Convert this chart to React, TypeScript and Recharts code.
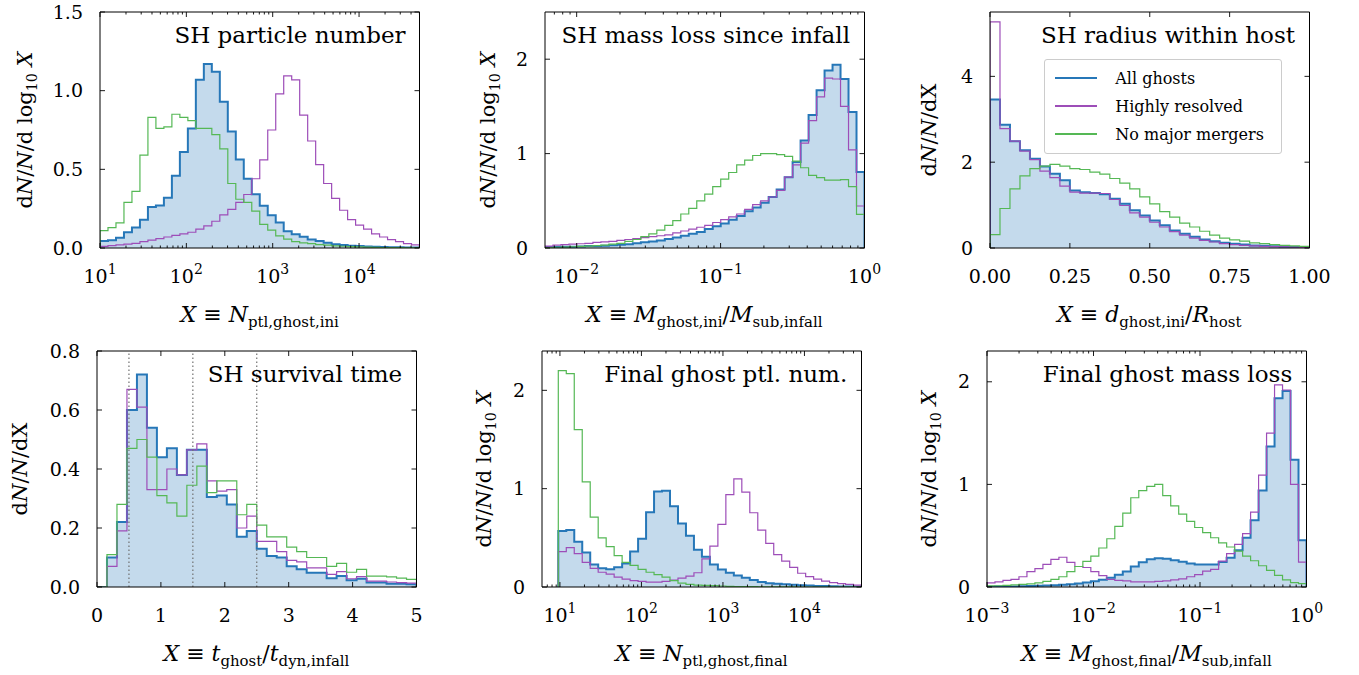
import React from "react";
import { ComposedChart, Area, Line, XAxis, YAxis, ReferenceLine, Legend } from "recharts";

const FONT = "'DejaVu Serif', serif";
const BLUE = "#2677b8";
const PURPLE = "#9d4db8";
const GREEN = "#55b855";

// SH particle number: 40 log bins, 10^1 .. 10^4.7
const nIniAll = [0.045, 0.05, 0.065, 0.1, 0.13, 0.18, 0.26, 0.27, 0.32, 0.46, 0.61, 0.76, 1.07, 1.17, 1.12, 0.93, 0.74, 0.563, 0.44, 0.342, 0.268, 0.208, 0.162, 0.106, 0.088, 0.071, 0.054, 0.044, 0.033, 0.024, 0.019, 0.015, 0.012, 0.01, 0.008, 0.006, 0.005, 0.004, 0.003, 0.003];
const nIniHiRes = [0.01, 0.015, 0.02, 0.025, 0.03, 0.04, 0.05, 0.06, 0.07, 0.08, 0.09, 0.1, 0.12, 0.14, 0.17, 0.21, 0.245, 0.29, 0.34, 0.44, 0.56, 0.75, 0.98, 1.094, 1.068, 0.845, 0.68, 0.53, 0.41, 0.315, 0.24, 0.18, 0.145, 0.12, 0.09, 0.07, 0.053, 0.04, 0.028, 0.02];
const nIniNoMerge = [0.11, 0.13, 0.16, 0.29, 0.36, 0.59, 0.83, 0.76, 0.77, 0.85, 0.83, 0.81, 0.76, 0.76, 0.72, 0.63, 0.41, 0.31, 0.29, 0.234, 0.15, 0.113, 0.077, 0.056, 0.04, 0.033, 0.028, 0.022, 0.018, 0.014, 0.011, 0.009, 0.007, 0.005, 0.004, 0.003, 0.002, 0.002, 0.001, 0.001];

// SH mass loss since infall: 40 log bins, 10^-2.22 .. 1
const mIniAll = [0.01, 0.01, 0.012, 0.014, 0.016, 0.02, 0.022, 0.025, 0.03, 0.035, 0.04, 0.05, 0.06, 0.07, 0.08, 0.095, 0.11, 0.13, 0.15, 0.17, 0.2, 0.23, 0.26, 0.3, 0.34, 0.39, 0.43, 0.48, 0.54, 0.62, 0.75, 0.91, 1.14, 1.41, 1.67, 1.88, 1.94, 1.79, 1.44, 0.806];
const mIniHiRes = [0.02, 0.03, 0.035, 0.04, 0.045, 0.05, 0.06, 0.065, 0.07, 0.08, 0.09, 0.1, 0.11, 0.12, 0.13, 0.14, 0.16, 0.18, 0.2, 0.22, 0.24, 0.27, 0.3, 0.33, 0.36, 0.41, 0.46, 0.5, 0.54, 0.61, 0.75, 0.88, 1.11, 1.35, 1.6, 1.8, 1.79, 1.5, 1.04, 0.445];
const mIniNoMerge = [0.005, 0.008, 0.01, 0.013, 0.017, 0.02, 0.025, 0.03, 0.04, 0.05, 0.07, 0.09, 0.12, 0.15, 0.19, 0.24, 0.29, 0.36, 0.42, 0.5, 0.57, 0.65, 0.73, 0.8, 0.88, 0.93, 0.98, 1.0, 1.0, 0.99, 0.97, 0.92, 0.85, 0.77, 0.745, 0.72, 0.72, 0.725, 0.65, 0.357];

// SH radius within host: 32 bins, 0 .. 1
const rIniAll = [3.46, 2.87, 2.49, 2.28, 2.08, 1.9, 1.73, 1.58, 1.34, 1.3, 1.28, 1.25, 1.15, 1.03, 0.88, 0.76, 0.64, 0.53, 0.41, 0.33, 0.26, 0.2, 0.16, 0.12, 0.1, 0.08, 0.06, 0.05, 0.04, 0.03, 0.025, 0.02];
const rIniHiRes = [5.27, 2.78, 2.49, 2.26, 2.06, 1.79, 1.64, 1.44, 1.3, 1.28, 1.28, 1.27, 1.13, 0.99, 0.82, 0.72, 0.6, 0.49, 0.38, 0.3, 0.23, 0.18, 0.14, 0.1, 0.08, 0.06, 0.05, 0.04, 0.03, 0.025, 0.02, 0.015];
const rIniNoMerge = [0.31, 0.92, 1.38, 1.68, 1.85, 1.91, 1.95, 1.91, 1.85, 1.83, 1.77, 1.72, 1.62, 1.51, 1.38, 1.19, 1.03, 0.85, 0.72, 0.58, 0.49, 0.39, 0.3, 0.23, 0.19, 0.16, 0.12, 0.1, 0.08, 0.06, 0.05, 0.04];

// SH survival time: 32 bins, 0 .. 5
const tAll = [0, 0.1, 0.22, 0.6, 0.72, 0.54, 0.44, 0.47, 0.38, 0.465, 0.465, 0.305, 0.31, 0.28, 0.17, 0.19, 0.13, 0.105, 0.1, 0.07, 0.06, 0.048, 0.048, 0.03, 0.037, 0.023, 0.028, 0.015, 0.015, 0.011, 0.011, 0.009];
const tHiRes = [0, 0.07, 0.19, 0.67, 0.61, 0.33, 0.33, 0.4, 0.38, 0.465, 0.485, 0.36, 0.325, 0.33, 0.2, 0.24, 0.155, 0.155, 0.12, 0.09, 0.085, 0.065, 0.065, 0.043, 0.052, 0.028, 0.035, 0.02, 0.02, 0.017, 0.015, 0.013];
const tNoMerge = [0, 0.11, 0.28, 0.47, 0.5, 0.44, 0.31, 0.285, 0.24, 0.345, 0.41, 0.32, 0.36, 0.36, 0.245, 0.28, 0.21, 0.17, 0.17, 0.135, 0.12, 0.1, 0.1, 0.07, 0.08, 0.05, 0.06, 0.037, 0.037, 0.034, 0.03, 0.026];
const survivalMarks = [0.5, 1.5, 2.5];

// Final ghost ptl. num.: 38 log bins, 10^0.98 .. 10^4.7
const nFinAll = [0.57, 0.58, 0.46, 0.35, 0.23, 0.19, 0.18, 0.2, 0.24, 0.36, 0.49, 0.76, 0.97, 0.98, 0.82, 0.646, 0.52, 0.38, 0.307, 0.23, 0.178, 0.145, 0.117, 0.094, 0.07, 0.05, 0.037, 0.034, 0.027, 0.022, 0.018, 0.014, 0.011, 0.009, 0.007, 0.005, 0.004, 0.003];
const nFinHiRes = [0.36, 0.4, 0.34, 0.25, 0.19, 0.15, 0.13, 0.1, 0.08, 0.065, 0.058, 0.05, 0.05, 0.058, 0.07, 0.09, 0.11, 0.145, 0.287, 0.415, 0.636, 0.94, 1.1, 0.965, 0.755, 0.578, 0.443, 0.33, 0.263, 0.2, 0.14, 0.105, 0.08, 0.06, 0.045, 0.035, 0.027, 0.02];
const nFinNoMerge = [2.2, 2.17, 1.6, 1.07, 0.71, 0.5, 0.41, 0.32, 0.25, 0.22, 0.18, 0.15, 0.125, 0.1, 0.064, 0.04, 0.027, 0.02, 0.017, 0.013, 0.01, 0.007, 0.005, 0.004, 0.003, 0.002, 0.002, 0.001, 0.001, 0.001, 0, 0, 0, 0, 0, 0, 0, 0];

// Final ghost mass loss: 40 log bins, 10^-3 .. 1
const mFinAll = [0.003, 0.004, 0.005, 0.006, 0.007, 0.009, 0.011, 0.014, 0.017, 0.022, 0.028, 0.035, 0.045, 0.055, 0.07, 0.09, 0.12, 0.15, 0.2, 0.24, 0.27, 0.28, 0.275, 0.26, 0.245, 0.23, 0.22, 0.22, 0.22, 0.243, 0.286, 0.357, 0.48, 0.65, 0.94, 1.37, 1.84, 1.91, 1.24, 0.455];
const mFinHiRes = [0.04, 0.05, 0.065, 0.075, 0.1, 0.15, 0.18, 0.22, 0.27, 0.29, 0.24, 0.2, 0.19, 0.15, 0.11, 0.075, 0.065, 0.06, 0.05, 0.05, 0.05, 0.055, 0.06, 0.07, 0.08, 0.1, 0.12, 0.155, 0.172, 0.253, 0.325, 0.415, 0.52, 0.73, 1.09, 1.5, 1.97, 1.92, 1.0, 0.243];
const mFinNoMerge = [0.01, 0.012, 0.015, 0.02, 0.025, 0.03, 0.04, 0.055, 0.075, 0.1, 0.15, 0.2, 0.25, 0.3, 0.38, 0.47, 0.59, 0.72, 0.87, 0.94, 0.98, 1.0, 0.89, 0.79, 0.71, 0.64, 0.58, 0.53, 0.48, 0.43, 0.39, 0.35, 0.3, 0.256, 0.207, 0.163, 0.114, 0.07, 0.043, 0.033];

// tick labels
const decadesN = [10, 100, 1000, 10000];
const decadesM = [0.01, 0.1, 1];
const decadesMFin = [0.001, 0.01, 0.1, 1];
const radiusTicks = [0, 0.25, 0.5, 0.75, 1];
const timeTicks = [0, 1, 2, 3, 4, 5];
const yTicksHalf = [0, 0.5, 1, 1.5];
const yTicksUnit = [0, 1, 2];
const yTicksRadius = [0, 2, 4];
const yTicksTime = [0, 0.2, 0.4, 0.6, 0.8];

const legendNames = ["All ghosts", "Highly resolved", "No major mergers"];
const legendColors = [BLUE, PURPLE, GREEN];

const PW = 319.5;
const PH = 236;
const YW = 70;
const XH = 45;
const MT = 12;
const MR = 28;

function binEdges(lo: number, hi: number, n: number, log: boolean) {
  return Array.from({ length: n + 1 }, (_, i) => {
    const v = lo + ((hi - lo) * i) / n;
    return log ? Math.pow(10, v) : v;
  });
}

// step outline rows: closed at both ends like a matplotlib step histogram
function histRows(edges: number[], all: number[], hires: number[], nomerge: number[]) {
  const n = all.length;
  const rows = [{ x: edges[0], all: 0, hires: 0, nomerge: 0 }];
  for (let i = 0; i < n; i++) rows.push({ x: edges[i], all: all[i], hires: hires[i], nomerge: nomerge[i] });
  rows.push({ x: edges[n], all: all[n - 1], hires: hires[n - 1], nomerge: nomerge[n - 1] });
  rows.push({ x: edges[n], all: 0, hires: 0, nomerge: 0 });
  return rows;
}

function withMinors(decades: number[], lo: number, hi: number) {
  const out: number[] = [];
  const first = decades[0] / 10;
  [first, ...decades].forEach((d) => {
    for (let m = 1; m < 10; m++) {
      const v = d * m;
      if (v >= lo * 0.9999 && v <= hi * 1.0001) out.push(v);
    }
  });
  return out;
}

const isDecade = (v: number) => Math.abs(Math.log10(v) - Math.round(Math.log10(v))) < 1e-6;

const Sub = ({ children }: { children: React.ReactNode }) => (
  <sub style={{ fontSize: "0.68em", verticalAlign: "-0.32em", lineHeight: 0 }}>{children}</sub>
);

function XTick(props: any) {
  const { x, y, payload, log, fmt, top } = props;
  const v = payload.value;
  const major = !log || isDecade(v);
  const len = major ? 5 : 2.5;
  const y2 = top ? y + len : y - len;
  let label: React.ReactNode = null;
  if (!top && major) {
    if (log) {
      const e = Math.round(Math.log10(v));
      label = (
        <text x={x} y={y + 35} textAnchor="middle" fontFamily={FONT} fontSize={19} fill="#000">
          10
          <tspan dy={-9} fontSize={14}>
            {e < 0 ? "\u2212" + -e : String(e)}
          </tspan>
        </text>
      );
    } else {
      label = (
        <text x={x} y={y + 35} textAnchor="middle" fontFamily={FONT} fontSize={19} fill="#000">
          {fmt(v)}
        </text>
      );
    }
  }
  return (
    <g>
      <line x1={x} x2={x} y1={y} y2={y2} stroke="#000" strokeWidth={0.9} />
      {label}
    </g>
  );
}

function YTick(props: any) {
  const { x, y, payload, fmt, right } = props;
  return (
    <g>
      <line x1={x} x2={right ? x - 5 : x + 5} y1={y} y2={y} stroke="#000" strokeWidth={0.9} />
      {!right && (
        <text x={x - 17} y={y + 6.5} textAnchor="end" fontFamily={FONT} fontSize={19} fill="#000">
          {fmt(payload.value)}
        </text>
      )}
    </g>
  );
}

function LegendBox() {
  return (
    <div
      style={{
        width: 238,
        height: 95,
        boxSizing: "border-box",
        border: "1px solid #cccccc",
        borderRadius: 3,
        background: "rgba(255,255,255,0.85)",
        position: "relative",
        fontFamily: FONT,
        fontSize: 16,
      }}
    >
      {legendNames.map((name, i) => (
        <div key={name} style={{ position: "absolute", left: 10, top: 9 + i * 28, height: 18, display: "flex", alignItems: "center" }}>
          <div style={{ width: 42, height: 1.5, background: legendColors[i] }} />
          <span style={{ marginLeft: 18, whiteSpace: "nowrap" }}>{name}</span>
        </div>
      ))}
    </div>
  );
}

type Spec = {
  left: number;
  top: number;
  log: boolean;
  bins: [number, number];
  all: number[];
  hires: number[];
  nomerge: number[];
  xDomain: [number, number];
  xTicks: number[];
  xFmt?: (v: number) => string;
  yDomain: [number, number];
  yTicks: number[];
  yFmt: (v: number) => string;
  title: string;
  xLabel: React.ReactNode;
  yLabel: React.ReactNode;
  yLabelX: number;
  marks?: number[];
  legend?: boolean;
};

const yLogLabel = (
  <span>
    d<i>N</i>/<i>N</i>/d log<Sub>10</Sub> <i>X</i>
  </span>
);
const yLinLabel = (
  <span>
    d<i>N</i>/<i>N</i>/dX
  </span>
);

const specs: Spec[] = [
  {
    left: 100, top: 12, log: true, bins: [1, 4.7],
    all: nIniAll, hires: nIniHiRes, nomerge: nIniNoMerge,
    xDomain: [10, Math.pow(10, 4.7)], xTicks: withMinors(decadesN, 10, Math.pow(10, 4.7)),
    yDomain: [0, 1.5], yTicks: yTicksHalf, yFmt: (v) => v.toFixed(1),
    title: "SH particle number",
    xLabel: <span><i>X</i> ≡ <i>N</i><Sub>ptl,ghost,ini</Sub></span>,
    yLabel: yLogLabel, yLabelX: 25,
  },
  {
    left: 544.5, top: 12, log: true, bins: [-2.22, 0],
    all: mIniAll, hires: mIniHiRes, nomerge: mIniNoMerge,
    xDomain: [Math.pow(10, -2.22), 1], xTicks: withMinors(decadesM, Math.pow(10, -2.22), 1),
    yDomain: [0, 2.5], yTicks: yTicksUnit, yFmt: (v) => String(v),
    title: "SH mass loss since infall",
    xLabel: <span><i>X</i> ≡ <i>M</i><Sub>ghost,ini</Sub>/<i>M</i><Sub>sub,infall</Sub></span>,
    yLabel: yLogLabel, yLabelX: 488,
  },
  {
    left: 989.5, top: 12, log: false, bins: [0, 1],
    all: rIniAll, hires: rIniHiRes, nomerge: rIniNoMerge,
    xDomain: [0, 1], xTicks: radiusTicks, xFmt: (v) => v.toFixed(2),
    yDomain: [0, 5.5], yTicks: yTicksRadius, yFmt: (v) => String(v),
    title: "SH radius within host",
    xLabel: <span><i>X</i> ≡ <i>d</i><Sub>ghost,ini</Sub>/<i>R</i><Sub>host</Sub></span>,
    yLabel: yLinLabel, yLabelX: 929, legend: true,
  },
  {
    left: 96.7, top: 351, log: false, bins: [0, 5],
    all: tAll, hires: tHiRes, nomerge: tNoMerge,
    xDomain: [0, 5], xTicks: timeTicks, xFmt: (v) => String(v),
    yDomain: [0, 0.8], yTicks: yTicksTime, yFmt: (v) => v.toFixed(1),
    title: "SH survival time",
    xLabel: <span><i>X</i> ≡ <i>t</i><Sub>ghost</Sub>/<i>t</i><Sub>dyn,infall</Sub></span>,
    yLabel: yLinLabel, yLabelX: 20, marks: survivalMarks,
  },
  {
    left: 541.7, top: 351, log: true, bins: [0.98, 4.7],
    all: nFinAll, hires: nFinHiRes, nomerge: nFinNoMerge,
    xDomain: [Math.pow(10, 0.78), Math.pow(10, 4.7)], xTicks: withMinors(decadesN, Math.pow(10, 0.78), Math.pow(10, 4.7)),
    yDomain: [0, 2.4], yTicks: yTicksUnit, yFmt: (v) => String(v),
    title: "Final ghost ptl. num.",
    xLabel: <span><i>X</i> ≡ <i>N</i><Sub>ptl,ghost,final</Sub></span>,
    yLabel: yLogLabel, yLabelX: 484,
  },
  {
    left: 986.7, top: 351, log: true, bins: [-3, 0],
    all: mFinAll, hires: mFinHiRes, nomerge: mFinNoMerge,
    xDomain: [0.001, 1], xTicks: withMinors(decadesMFin, 0.001, 1),
    yDomain: [0, 2.3], yTicks: yTicksUnit, yFmt: (v) => String(v),
    title: "Final ghost mass loss",
    xLabel: <span><i>X</i> ≡ <i>M</i><Sub>ghost,final</Sub>/<i>M</i><Sub>sub,infall</Sub></span>,
    yLabel: yLogLabel, yLabelX: 929,
  },
];

function Panel({ s }: { s: Spec }) {
  const edges = binEdges(s.bins[0], s.bins[1], s.all.length, s.log);
  const data = histRows(edges, s.all, s.hires, s.nomerge);
  const scale = s.log ? "log" : "linear";
  return (
    <>
      <div style={{ position: "absolute", left: s.left - YW, top: s.top - MT }}>
        <ComposedChart width={YW + PW + MR} height={MT + PH + XH} data={data} margin={{ top: MT - 1, right: MR - 1, bottom: 0, left: 0 }}>
          <XAxis
            xAxisId="b" dataKey="x" type="number" scale={scale} domain={s.xDomain} allowDataOverflow
            ticks={s.xTicks} interval={0} tickSize={0} tickMargin={0} tickLine={false} height={XH}
            axisLine={{ stroke: "#000", strokeWidth: 1 }}
            tick={(p: any) => <XTick {...p} log={s.log} fmt={s.xFmt} />}
          />
          <XAxis
            xAxisId="t" orientation="top" dataKey="x" type="number" scale={scale} domain={s.xDomain} allowDataOverflow
            ticks={s.xTicks} interval={0} tickSize={0} tickMargin={0} tickLine={false} height={1}
            axisLine={{ stroke: "#000", strokeWidth: 1 }}
            tick={(p: any) => <XTick {...p} log={s.log} top />}
          />
          <YAxis
            yAxisId="l" type="number" domain={s.yDomain} allowDataOverflow ticks={s.yTicks} interval={0}
            tickSize={0} tickMargin={0} tickLine={false} width={YW}
            axisLine={{ stroke: "#000", strokeWidth: 1 }}
            tick={(p: any) => <YTick {...p} fmt={s.yFmt} />}
          />
          <YAxis
            yAxisId="r" orientation="right" type="number" domain={s.yDomain} allowDataOverflow ticks={s.yTicks} interval={0}
            tickSize={0} tickMargin={0} tickLine={false} width={1}
            axisLine={{ stroke: "#000", strokeWidth: 1 }}
            tick={(p: any) => <YTick {...p} right />}
          />
          <Area
            xAxisId="b" yAxisId="l" type="stepAfter" dataKey="all" name={legendNames[0]}
            stroke={BLUE} strokeWidth={2} fill={BLUE} fillOpacity={0.27} isAnimationActive={false} dot={false} activeDot={false}
          />
          <Line
            xAxisId="b" yAxisId="l" type="stepAfter" dataKey="hires" name={legendNames[1]}
            stroke={PURPLE} strokeWidth={1.2} dot={false} activeDot={false} isAnimationActive={false}
          />
          <Line
            xAxisId="b" yAxisId="l" type="stepAfter" dataKey="nomerge" name={legendNames[2]}
            stroke={GREEN} strokeWidth={1.2} dot={false} activeDot={false} isAnimationActive={false}
          />
          <Line
            xAxisId="t" yAxisId="r" dataKey="all" stroke="none" dot={false} activeDot={false}
            isAnimationActive={false} legendType="none"
          />
          {(s.marks || []).map((m) => (
            <ReferenceLine key={m} xAxisId="b" yAxisId="l" x={m} stroke="#707070" strokeWidth={1.2} strokeDasharray="1.5 2.5" />
          ))}
          {s.legend && (
            <Legend
              layout="horizontal" verticalAlign="middle" align="center"
              wrapperStyle={{ left: 1044.3 - (s.left - YW), top: 59 - (s.top - MT), width: 238, height: 95 }}
              content={() => <LegendBox />}
            />
          )}
        </ComposedChart>
      </div>
      <div
        style={{
          position: "absolute", left: s.left, top: s.top + 11, width: PW - 14, textAlign: "right",
          fontFamily: FONT, fontSize: 23, lineHeight: "24px", whiteSpace: "nowrap",
        }}
      >
        {s.title}
      </div>
      <div
        style={{
          position: "absolute", left: s.left + PW / 2, top: s.top + PH + 67, transform: "translate(-50%, -50%)",
          fontFamily: FONT, fontSize: 22, lineHeight: "24px", whiteSpace: "nowrap",
        }}
      >
        {s.xLabel}
      </div>
      <div
        style={{
          position: "absolute", left: s.yLabelX, top: s.top + PH / 2, transform: "translate(-50%, -50%) rotate(-90deg)",
          fontFamily: FONT, fontSize: 21, lineHeight: "24px", whiteSpace: "nowrap",
        }}
      >
        {s.yLabel}
      </div>
    </>
  );
}

export default function App() {
  return (
    <div style={{ position: "absolute", left: 0, top: 0, width: 1359, height: 675, background: "#fff", overflow: "hidden" }}>
      {specs.map((s) => (
        <Panel key={s.title} s={s} />
      ))}
    </div>
  );
}
